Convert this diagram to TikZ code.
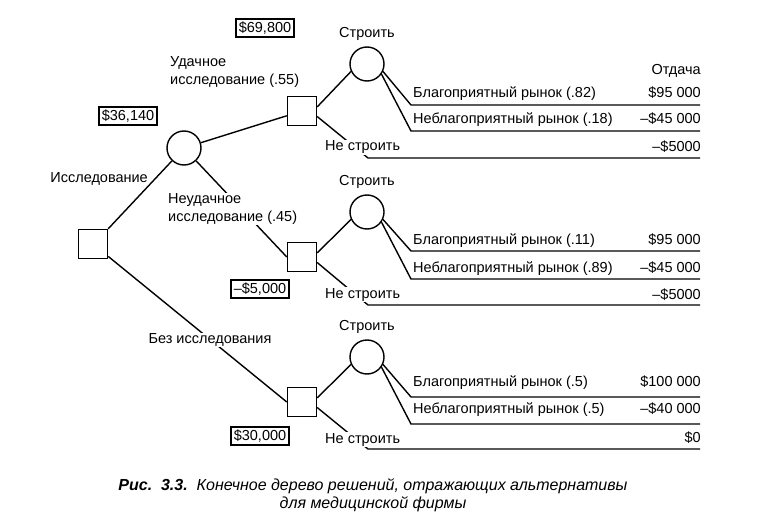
\documentclass[tikz,border=0pt]{standalone}
\usepackage{fontspec}
\setmainfont{Liberation Sans}
\usetikzlibrary{positioning}
\tikzset{dsq/.style = {draw, line width = 1.4pt, minimum size = 29, inner sep = 0}}
\tikzset{chc/.style = {draw, circle, line width = 1.4pt, minimum size = 34, inner sep = 0}}
\tikzset{valbox/.style = {draw, line width = 2pt, inner xsep = 3pt, inner ysep = 2.5pt}}
\tikzset{br/.style = {line width = 1.4pt}}
\tikzset{cover/.style = {fill = white, inner sep = 1pt}}

\begin{document}
\begin{tikzpicture}[x=1pt, y=-1pt, font=\fontsize{14.5}{17.5}\selectfont]
       \useasboundingbox (0, 0) rectangle (766, 524);

       % nodes of the tree
       \node [dsq] (root) at (93, 244) {};
       \node [chc] (res) at (184, 148) {};
       \node [dsq] (good) at (302, 111) {};
       \node [dsq] (bad) at (302, 257) {};
       \node [dsq] (none) at (302, 402) {};
       \node [chc] (bgood) at (367, 64) {};
       \node [chc] (bbad) at (367, 212) {};
       \node [chc] (bnone) at (367, 357) {};
       \coordinate (rim) at (700, 0);

       % corners of the payoff lines
       \coordinate (ga) at (411, 105);
       \coordinate (gb) at (411, 131);
       \coordinate (gc) at (368, 158);
       \coordinate (ba) at (411, 251);
       \coordinate (bb) at (411, 279);
       \coordinate (bc) at (368, 305);
       \coordinate (na) at (411, 397);
       \coordinate (nb) at (411, 424);
       \coordinate (nc) at (368, 449);

       \draw [br] (root.north east) -- (res);
       \draw [br] (root) -- (none.west);
       \draw [br] (res) -- (good);
       \draw [br] (res) -- (bad.west);

       \draw [br] (good.15) -- (bgood.205);
       \draw [br] (bgood.-25) -- (ga) -- (ga -| rim);
       \draw [br] (bgood.-35) -- (gb) -- (gb -| rim);
       \draw [br] (good.-20) -- (gc) -- (gc -| rim);

       \draw [br] (bad.15) -- (bbad.205);
       \draw [br] (bbad.-25) -- (ba) -- (ba -| rim);
       \draw [br] (bbad.-35) -- (bb) -- (bb -| rim);
       \draw [br] (bad.-20) -- (bc) -- (bc -| rim);

       \draw [br] (none.15) -- (bnone.205);
       \draw [br] (bnone.-25) -- (na) -- (na -| rim);
       \draw [br] (bnone.-35) -- (nb) -- (nb -| rim);
       \draw [br] (none.-20) -- (nc) -- (nc -| rim);

       % branch labels
       \node [anchor = east, inner sep = 0] (lres) at (148, 179) {Исследование};
       \node [anchor = west, align = left, inner sep = 0] (lgood) at (170, 72) {Удачное\\исследование (.55)};
       \node [cover, anchor = west, align = left] (lbad) at (167, 209) {Неудачное\\исследование (.45)};
       \node [cover] (lnone) at (210, 340) {Без исследования};

       \node [above = 2pt of bgood] (sg) {Строить};
       \node [above = 2pt of bbad] (sb) {Строить};
       \node [above = 2pt of bnone] (sn) {Строить};

       \node [cover, anchor = base west] (ng) at (324, 151) {Не строить};
       \node [cover, anchor = base west] (nbd) at (324, 298) {Не строить};
       \node [cover, anchor = base west] (nn) at (324, 443) {Не строить};

       % expected values
       \node [valbox] (v1) at (265, 28) {\$69,800};
       \node [valbox] (v2) at (128, 116) {\$36,140};
       \node [valbox] (v3) at (260, 289) {–\$5,000};
       \node [valbox] (v4) at (260, 436) {\$30,000};

       % market outcomes and payoffs
       \node [anchor = base east, inner sep = 0] (pay) at (701, 75) {Отдача};
       \node [anchor = base west, inner sep = 0] (ta1) at (413, 98) {Благоприятный рынок (.82)};
       \node [anchor = base east, inner sep = 0] (pa1) at (701, 98) {\$95 000};
       \node [anchor = base west, inner sep = 0] (tb1) at (413, 124) {Неблагоприятный рынок (.18)};
       \node [anchor = base east, inner sep = 0] (pb1) at (701, 124) {–\$45 000};
       \node [anchor = base east, inner sep = 0] (pc1) at (701, 152) {–\$5000};

       \node [anchor = base west, inner sep = 0] (ta2) at (413, 244) {Благоприятный рынок (.11)};
       \node [anchor = base east, inner sep = 0] (pa2) at (701, 244) {\$95 000};
       \node [anchor = base west, inner sep = 0] (tb2) at (413, 272) {Неблагоприятный рынок (.89)};
       \node [anchor = base east, inner sep = 0] (pb2) at (701, 272) {–\$45 000};
       \node [anchor = base east, inner sep = 0] (pc2) at (701, 299) {–\$5000};

       \node [anchor = base west, inner sep = 0] (ta3) at (413, 386) {Благоприятный рынок (.5)};
       \node [anchor = base east, inner sep = 0] (pa3) at (701, 386) {\$100 000};
       \node [anchor = base west, inner sep = 0] (tb3) at (413, 413) {Неблагоприятный рынок (.5)};
       \node [anchor = base east, inner sep = 0] (pb3) at (701, 413) {–\$40 000};
       \node [anchor = base east, inner sep = 0] (pc3) at (701, 442) {\$0};

       % caption
       \node [align = center, font = \fontsize{16}{18}\selectfont\itshape] (cap) at (373, 495)
              {\textbf{Рис.\ \ 3.3.}\ \ Конечное дерево решений, отражающих альтернативы\\для медицинской фирмы};
    \end{tikzpicture}
\end{document}
